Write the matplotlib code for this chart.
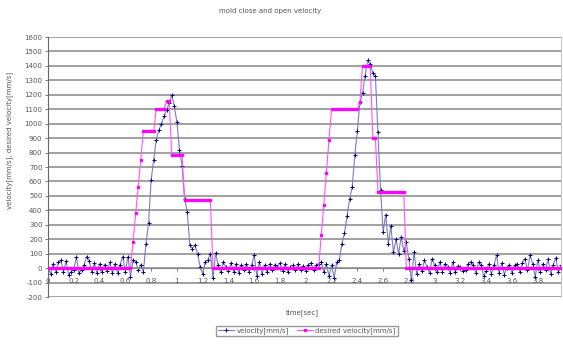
import numpy as np
import matplotlib
matplotlib.use("Agg")
import matplotlib.pyplot as plt

# datos (muestreo cada 0.02 s)
dt = 0.02
velocity = [
    10, -40, 30, -25, 40, 55, -30, 50, -45, -25,
    -10, 75, -35, -15, 20, 80, 50, -30, 35, -35,
    30, -30, 25, -20, 40, -35, 30, -35, 25, 80,
    -25, 80, -60, 55, 45, -15, 25, -25, 170, 310,
    610, 750, 890, 955, 1000, 1050, 1095, 1140, 1200, 1120,
    1010, 820, 710, 480, 390, 160, 135, 160, 100, 10,
    -40, 45, 55, 100, -70, 105, 20, -30, 40, 10,
    -20, 35, -25, 30, -35, 25, -10, 30, -30, 20,
    90, -55, 45, -40, 20, -30, 30, -15, 25, 10,
    35, -20, 30, -25, 10, 20, -15, 30, -10, 15,
    -20, 25, 35, -10, 20, 30, 45, -30, 30, -55,
    20, -65, 40, 55, 170, 240, 360, 480, 560, 780,
    950, 1150, 1210, 1330, 1440, 1410, 1350, 1330, 940, 540,
    250, 370, 170, 290, 110, 200, 100, 215, 120, 180,
    60, -85, 110, -40, 30, -20, 55, 10, -35, 65,
    20, -30, 45, -25, 30, 10, -35, 40, -30, 15,
    5, -20, -15, 30, 45, 20, -35, 40, 25, -55,
    -20, 30, -40, 20, 90, -35, 35, -45, 0, 25,
    -35, 20, 30, -25, 35, 65, -15, 90, 30, -60,
    55, -25, 30, -10, 60, -40, 25, 70, -30, 20,
]
desired = ([0] * 33 + [180, 380, 565, 750] + [950] * 5 + [1100] * 4
           + [1160] * 2 + [780] * 5 + [470] * 11 + [0] * 42
           + [230, 440, 660, 890] + [1100] * 11 + [1150] + [1400] * 4
           + [900] * 2 + [530] * 11 + [0] * 61)
time = np.arange(len(velocity)) * dt

x_ticks = [0, 0.2, 0.4, 0.6, 0.8, 1, 1.2, 1.4, 1.6, 1.8,
           2, 2.2, 2.4, 2.6, 2.8, 3, 3.2, 3.4, 3.6, 3.8]
x_labels = ['0', '0.2', '0.4', '0.6', '0.8', '1', '1.2', '1.4', '1.6', '1.8',
            '2', '2.2', '2.4', '2.6', '2.8', '3', '3.2', '3.4', '3.6', '3.8']
y_ticks = list(range(-200, 1700, 100))

txt = '#555555'
fs = 5

fig = plt.figure(figsize=(5.63, 3.45), dpi=100)
ax = fig.add_axes([48 / 563, 1 - 297 / 345, 513 / 563, 260 / 345])

for y in y_ticks:
    ax.axhline(y, color='#a0a0a0', lw=1.4, zorder=0)

ax.plot(time, velocity, color='#7c7cc4', lw=0.8, marker='+', ms=2.8,
        mec='#000080', mew=0.7, label='velocity[mm/s]', zorder=2)
ax.plot(time, desired, color='#ff55ff', lw=0.8, marker='s', ms=1.4,
        mfc='#ff00ff', mec='#ff00ff', label='desired velocity[mm/s]', zorder=3)

ax.set_xlim(0, 3.98)
ax.set_ylim(-200, 1600)
ax.set_yticks(y_ticks)
ax.set_yticklabels([str(v) for v in y_ticks])
ax.set_xticks(x_ticks)
ax.set_xticklabels(x_labels)

ax.spines['bottom'].set_position(('data', 0))
ax.spines['bottom'].set_color('#888888')
ax.spines['left'].set_color('#666666')
ax.spines['top'].set_visible(False)
ax.spines['right'].set_color('#c8c8c8')
ax.tick_params(axis='both', labelsize=fs, labelcolor=txt, color='#666666',
               length=2, width=0.6, pad=2)
ax.tick_params(axis='x', pad=5)

fig.text(270 / 563, 1 - 11 / 345, 'mold close and open velocity',
         ha='center', va='center', fontsize=fs, color=txt)
fig.text(302 / 563, 1 - 313 / 345, 'time[sec]',
         ha='center', va='center', fontsize=fs, color=txt)
fig.text(10 / 563, 1 - 140 / 345, 'velocity[mm/s], desired velocity[mm/s]',
         ha='center', va='center', rotation=90, fontsize=fs, color=txt)

leg = fig.legend(loc='center', bbox_to_anchor=(307 / 563, 1 - 331 / 345),
                 ncol=2, fontsize=fs, frameon=True, fancybox=False,
                 handlelength=2.2, columnspacing=1.2, borderpad=0.3,
                 handletextpad=0.4)
leg.get_frame().set_edgecolor('#808080')
leg.get_frame().set_linewidth(1.0)
for t in leg.get_texts():
    t.set_color(txt)

fig.savefig('out.png', dpi=100)
